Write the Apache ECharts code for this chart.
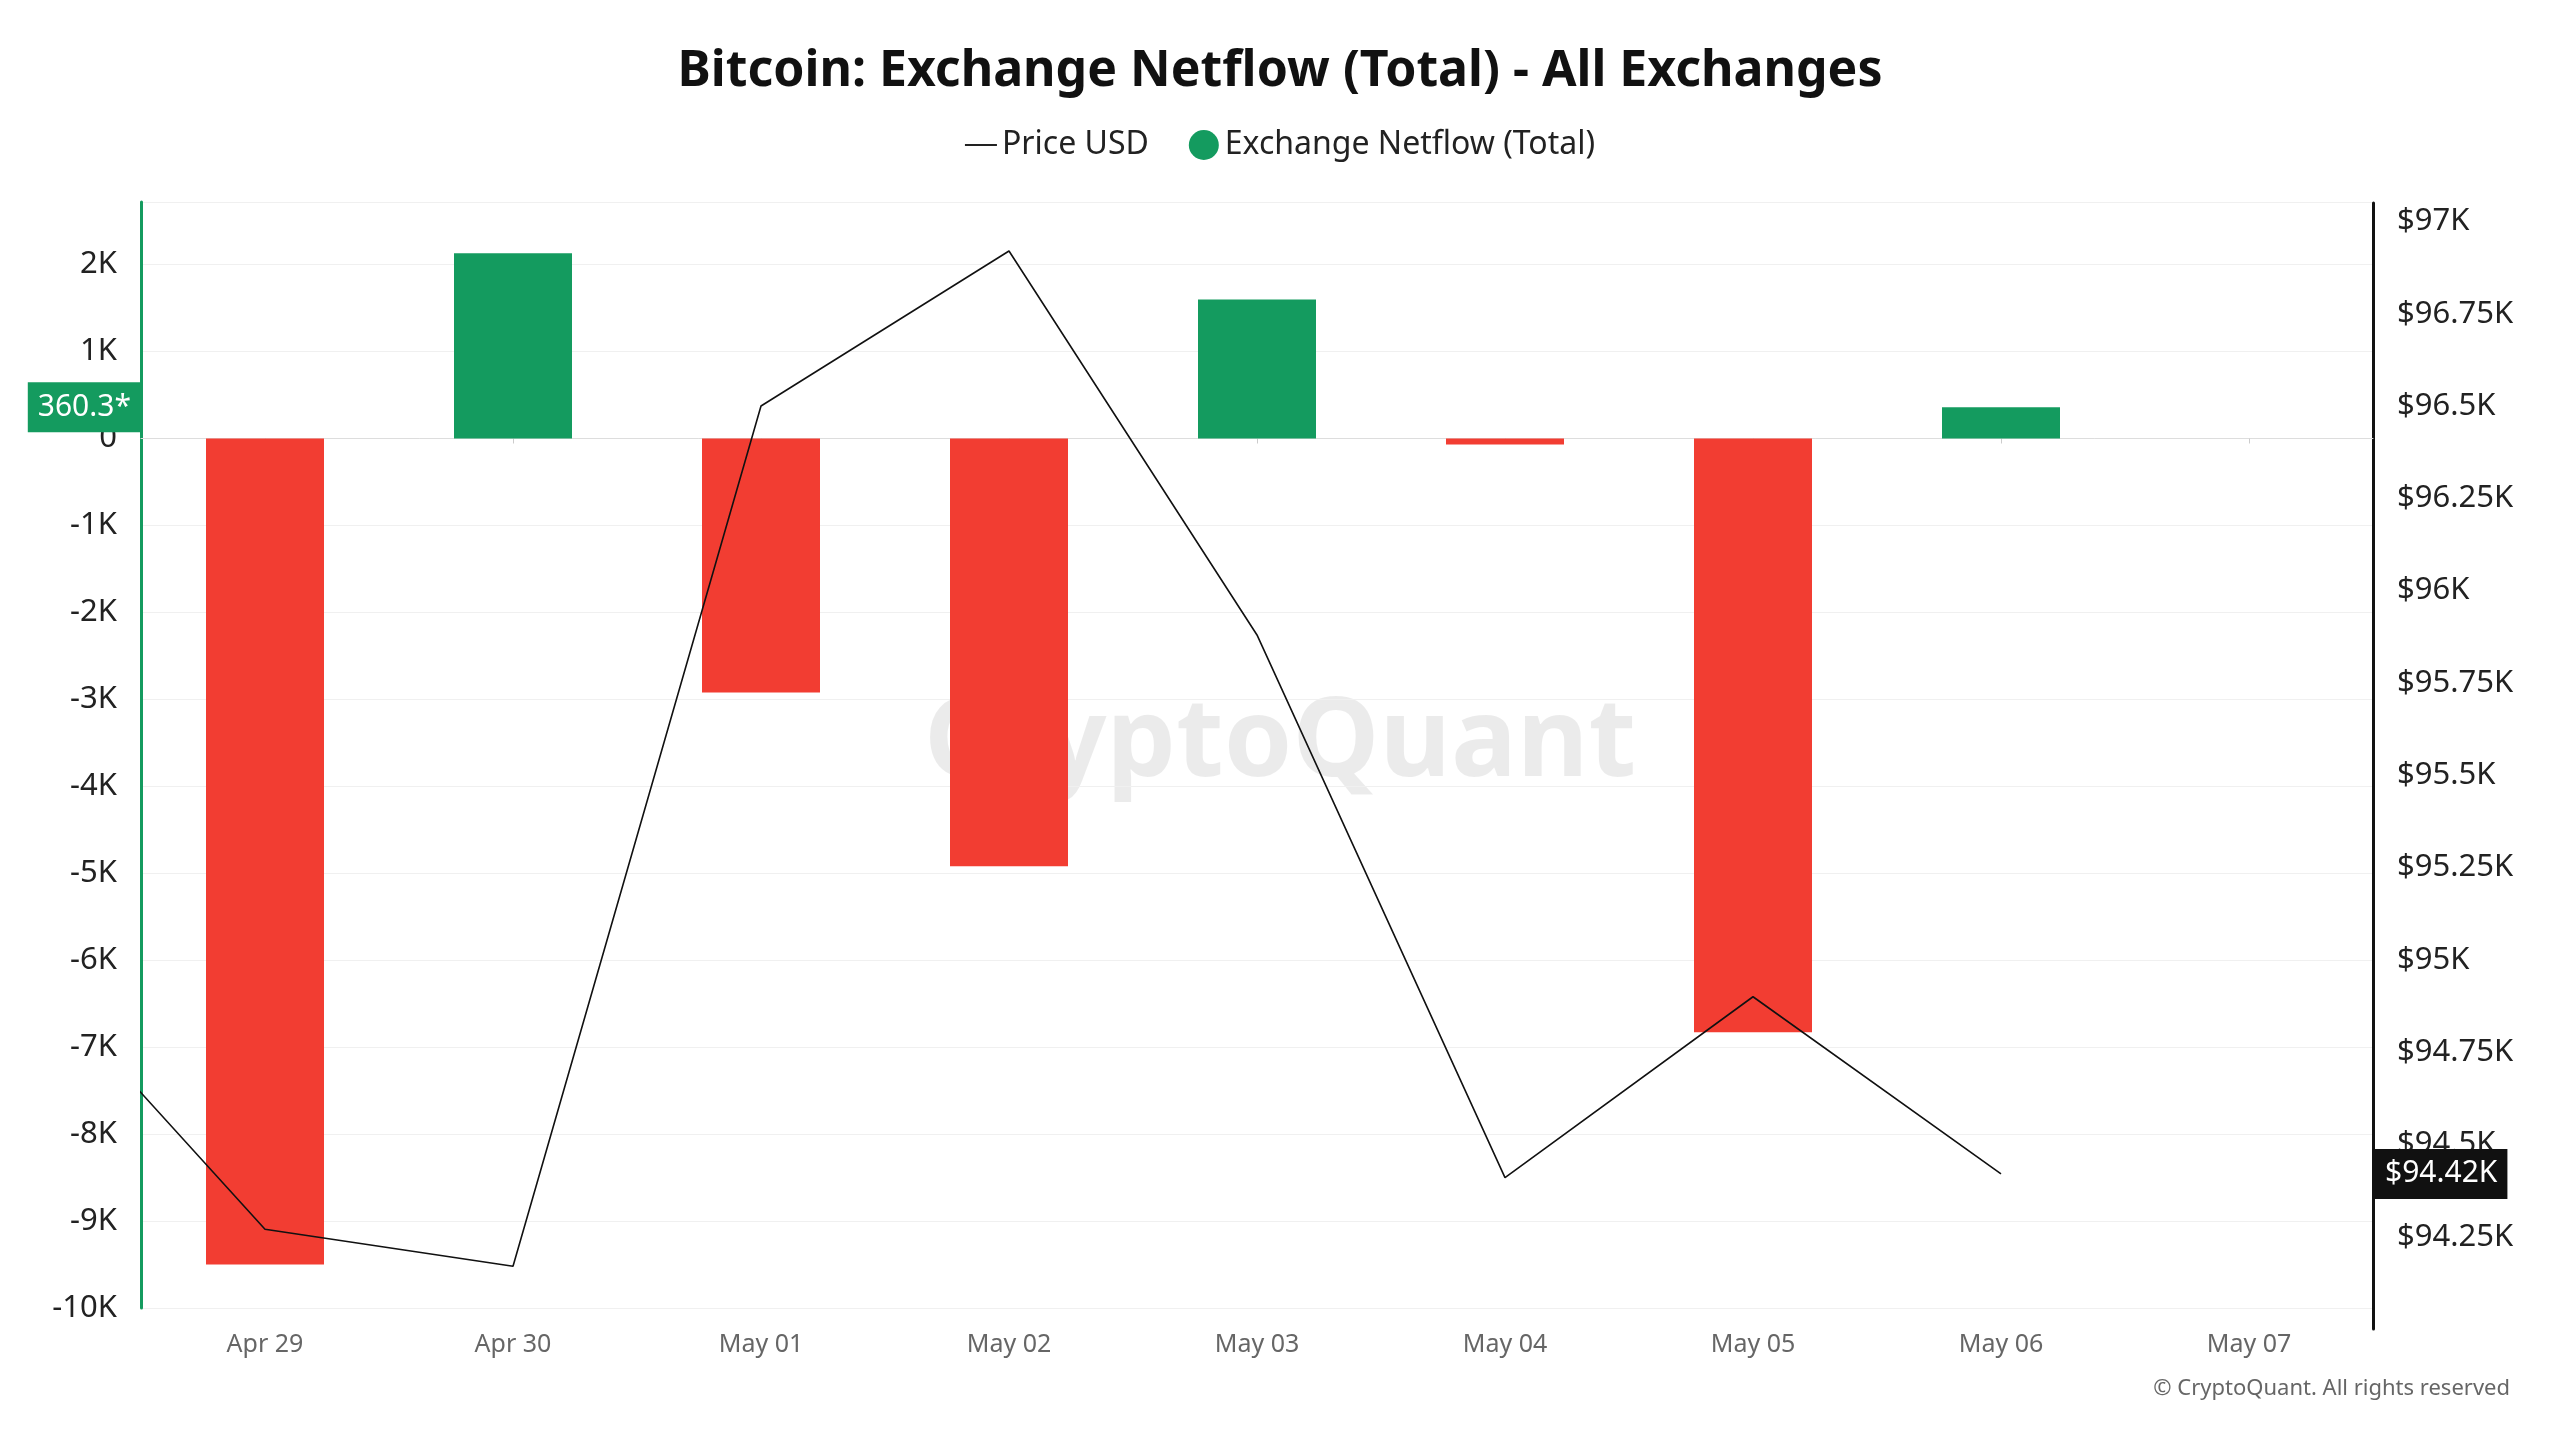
<!DOCTYPE html>
<html><head><meta charset="utf-8">
<script src="https://cdn.jsdelivr.net/npm/echarts@6/dist/echarts.min.js"></script>
<style>html,body{margin:0;background:#fff}#main{width:2560px;height:1440px}</style>
</head><body><div id="main"></div>
<script>
var days = ['Apr 29', 'Apr 30', 'May 01', 'May 02', 'May 03', 'May 04', 'May 05', 'May 06', 'May 07'];
var netflow = [-9500, 2130, -2920, -4920, 1600, -70, -6830, 360.3, null];
// first price is Apr 28 (off the left edge), then Apr 29 .. May 06
var priceIdx = [-1, 0, 1, 2, 3, 4, 5, 6, 7];
var price = [95010, 94270, 94170, 96500, 96920, 95880, 94410, 94900, 94420];

var green = '#149b5f', red = '#f23d32';
var font = 'Noto Sans';
var myChart = echarts.init(document.getElementById('main'));

var option = {
    textStyle: { fontFamily: font },
    title: {
        text: 'Bitcoin: Exchange Netflow (Total) - All Exchanges',
        left: 'center', top: 42,
        textStyle: { fontSize: 50, fontWeight: 'bold', color: '#111', fontFamily: font }
    },
    legend: {
        top: 124, left: 'center', itemGap: 40, itemWidth: 32, itemHeight: 30,
        textStyle: { fontSize: 32, color: '#222' },
        data: [
            { name: 'Price USD', icon: 'path://M0,14H30V16H0Z', itemStyle: { color: '#222' } },
            { name: 'Exchange Netflow (Total)', icon: 'circle', itemStyle: { color: green } }
        ]
    },
    graphic: [
        { type: 'text', left: 'center', top: 690, style: { text: 'CryptoQuant', fontSize: 110, fontWeight: 'bold', fill: 'rgba(0,0,0,0.08)', fontFamily: font } },
        { type: 'text', right: 50, bottom: 40, style: { text: '© CryptoQuant. All rights reserved', fontSize: 22, fill: '#666', fontFamily: font } }
    ],
    grid: [
        { left: 141, right: 187, top: 202, bottom: 132 },
        { left: 141, right: 187, top: 203, bottom: 111 }
    ],
    xAxis: [
        {
            type: 'category', gridIndex: 0, data: days, boundaryGap: true,
            axisLine: { lineStyle: { color: '#ddd' } },
            axisTick: { show: true, alignWithLabel: true, lineStyle: { color: '#ccc' } },
            axisLabel: { fontSize: 25, color: '#666', margin: 24 }
        },
        { type: 'value', gridIndex: 1, min: -0.5, max: 8.5, show: false }
    ],
    yAxis: [
        {
            type: 'value', gridIndex: 0, min: -10000, max: 2720, interval: 1000,
            axisLine: { show: true, lineStyle: { color: green, width: 3 } },
            axisLabel: { fontSize: 31, color: '#222', showMaxLabel: false, margin: 24,
                formatter: function (v) { return v === 0 ? '0' : (v / 1000) + 'K'; } },
            splitLine: { lineStyle: { color: '#f0f0f0' } }
        },
        {
            type: 'value', gridIndex: 1, position: 'right', min: 94000, max: 97050, interval: 250,
            axisLine: { show: true, onZero: false, lineStyle: { color: '#111', width: 3 } },
            axisTick: { show: false },
            axisLabel: { fontSize: 31, color: '#222', showMinLabel: false, showMaxLabel: false, margin: 24,
                formatter: function (v) { return '$' + (v / 1000) + 'K'; } },
            splitLine: { show: false }
        }
    ],
    series: [
        {
            name: 'Exchange Netflow (Total)', type: 'bar', xAxisIndex: 0, yAxisIndex: 0,
            barWidth: 118,
            data: netflow.map(function (v) {
                return { value: v, itemStyle: { color: v < 0 ? red : green } };
            }),
            markLine: {
                silent: true, symbol: 'none', lineStyle: { color: 'rgba(0,0,0,0)', width: 1 },
                data: [{ yAxis: 360.3 }],
                label: { show: true, position: 'start', formatter: '360.3*', color: '#fff', fontSize: 30,
                    backgroundColor: green, padding: [10, 10], distance: 0 }
            }
        },
        {
            name: 'Price USD', type: 'line', xAxisIndex: 1, yAxisIndex: 1,
            data: priceIdx.map(function (x, i) { return [x, price[i]]; }),
            symbol: 'none', clip: true,
            lineStyle: { color: '#111', width: 1.6 },
            markLine: {
                silent: true, symbol: 'none', lineStyle: { color: 'rgba(0,0,0,0)', width: 1 },
                data: [{ yAxis: 94420 }],
                label: { show: true, position: 'end', formatter: '$94.42K', color: '#fff', fontSize: 30,
                    backgroundColor: '#111', padding: [10, 10], distance: 2 }
            }
        }
    ]
};
myChart.setOption(option);
</script></body></html>
